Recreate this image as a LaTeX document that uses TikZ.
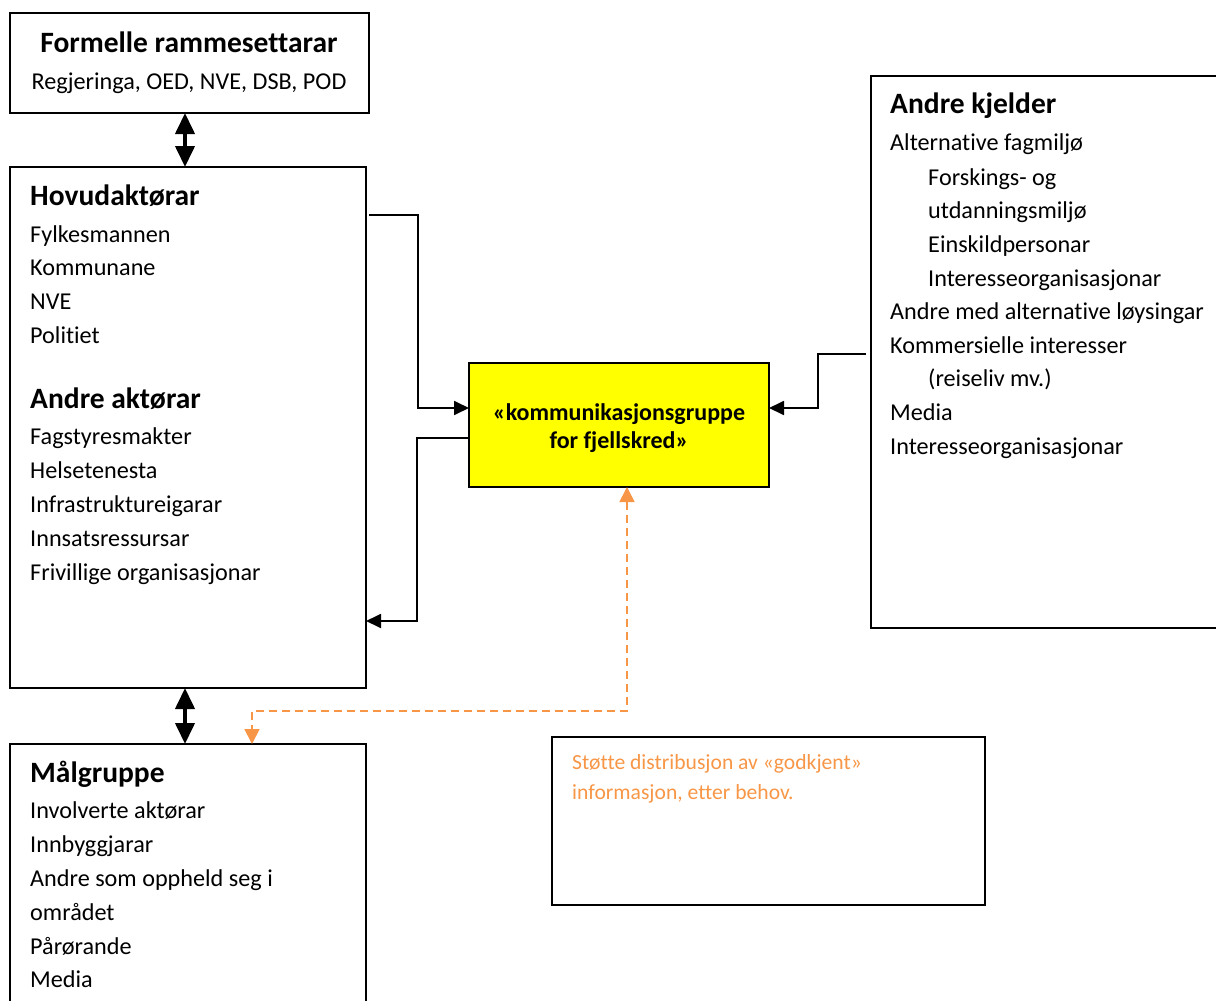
\documentclass[tikz,border=0pt]{standalone}
\usepackage{fontspec}
\setmainfont[Ligatures=NoCommon]{Carlito}
\usetikzlibrary{arrows.meta}
\definecolor{orng}{HTML}{F79646}
\definecolor{yel}{HTML}{FFFF00}
\begin{document}
\begin{tikzpicture}[x=1pt,y=-1pt,
  box/.style={draw=black,line width=1.3pt,inner sep=0pt,outer sep=0pt,anchor=north west},
  txt/.style={anchor=base west,inner sep=0pt,font=\fontsize{24.2}{28}\selectfont},
  ctxt/.style={anchor=base,inner sep=0pt,font=\fontsize{24.2}{28}\selectfont},
  ttl/.style={anchor=base west,inner sep=0pt,font=\fontsize{29.5}{34}\selectfont\bfseries},
  otxt/.style={anchor=base west,inner sep=0pt,text=orng,font=\fontsize{21.6}{26}\selectfont},
  conn/.style={line width=1.8pt,-{Triangle[length=15pt,width=14pt]}},
  dbl/.style={line width=4pt,{Triangle[length=21pt,width=19pt]}-{Triangle[length=21pt,width=19pt]}},
  odash/.style={draw=orng,line width=1.8pt,dash pattern=on 8pt off 5pt,
    {Triangle[length=15pt,width=15pt]}-{Triangle[length=15pt,width=15pt]}},
]
\useasboundingbox (0,0) rectangle (1216,1001);

% boxes
\node[box,minimum width=359pt,minimum height=100pt] (form) at (10,13) {};
\node[box,minimum width=356pt,minimum height=521pt] (hov) at (10,167) {};
\node[box,minimum width=356pt,minimum height=320pt] (mal) at (10,744) {};
\node[box,fill=yel,minimum width=300pt,minimum height=124pt] (yb) at (469,363) {};
\node[box,minimum width=400pt,minimum height=552pt] (rb) at (871,76) {};
\node[box,minimum width=433pt,minimum height=168pt] (ob) at (552,737) {};

% Formelle
\node[ttl,anchor=base] (f1) at (189,52) {Formelle rammesettarar};
\node[ctxt] (f2) at (189,89) {Regjeringa, OED, NVE, DSB, POD};

% Hovudaktørar
\node[ttl] (h0) at (30,205) {Hovudaktørar};
\node[txt] (h1) at (30,242) {Fylkesmannen};
\node[txt] (h2) at (30,275) {Kommunane};
\node[txt] (h3) at (30,309) {NVE};
\node[txt] (h4) at (30,343) {Politiet};
\node[ttl] (a0) at (30,408) {Andre aktørar};
\node[txt] (a1) at (30,444) {Fagstyresmakter};
\node[txt] (a2) at (30,478) {Helsetenesta};
\node[txt] (a3) at (30,512) {Infrastruktureigarar};
\node[txt] (a4) at (30,546) {Innsatsressursar};
\node[txt] (a5) at (30,580) {Frivillige organisasjonar};

% Målgruppe
\node[ttl] (m0) at (30,782) {Målgruppe};
\node[txt] (m1) at (30,818) {Involverte aktørar};
\node[txt] (m2) at (30,852) {Innbyggjarar};
\node[txt] (m3) at (30,886) {Andre som oppheld seg i};
\node[txt] (m4) at (30,920) {området};
\node[txt] (m5) at (30,954) {Pårørande};
\node[txt] (m6) at (30,987) {Media};

% Andre kjelder
\node[ttl] (k0) at (890,113) {Andre kjelder};
\node[txt] (k1) at (890,150) {Alternative fagmiljø};
\node[txt] (k2) at (928,185) {Forskings- og};
\node[txt] (k3) at (928,218) {utdanningsmiljø};
\node[txt] (k4) at (928,252) {Einskildpersonar};
\node[txt] (k5) at (928,286) {Interesseorganisasjonar};
\node[txt] (k6) at (890,319) {Andre med alternative løysingar};
\node[txt] (k7) at (890,353) {Kommersielle interesser};
\node[txt] (k8) at (928,386) {(reiseliv mv.)};
\node[txt] (k9) at (890,420) {Media};
\node[txt] (k10) at (890,454) {Interesseorganisasjonar};

% yellow text
\node[ctxt,font=\fontsize{24}{28}\selectfont\bfseries] (y1) at (619,420) {«kommunikasjonsgruppe};
\node[ctxt,font=\fontsize{24}{28}\selectfont\bfseries] (y2) at (619,448) {for fjellskred»};

% orange text
\node[otxt] (o1) at (572,769) {Støtte distribusjon av «godkjent»};
\node[otxt] (o2) at (572,799) {informasjon, etter behov.};

% connectors
\draw[dbl] ([xshift=175pt]form.south west) -- ([xshift=175pt]hov.north west);
\draw[dbl] ([xshift=175pt]hov.south west) -- ([xshift=175pt]mal.north west);
\draw[conn] ([shift={(3pt,-48pt)}]hov.north east) -- ++(49pt,0pt) |- ([yshift=17pt]yb.west);
\draw[conn] ([yshift=-13pt]yb.west) -- ++(-52pt,0pt) |- ([yshift=-193.5pt]hov.east);
\draw[conn] ([shift={(-5pt,-2pt)}]rb.west) -- ++(-48pt,0pt) |- ([yshift=17pt]yb.east);
\draw[odash] ([xshift=8pt]yb.south) -- ++(0pt,-224pt) -| ([xshift=242pt]mal.north west);
\end{tikzpicture}
\end{document}
